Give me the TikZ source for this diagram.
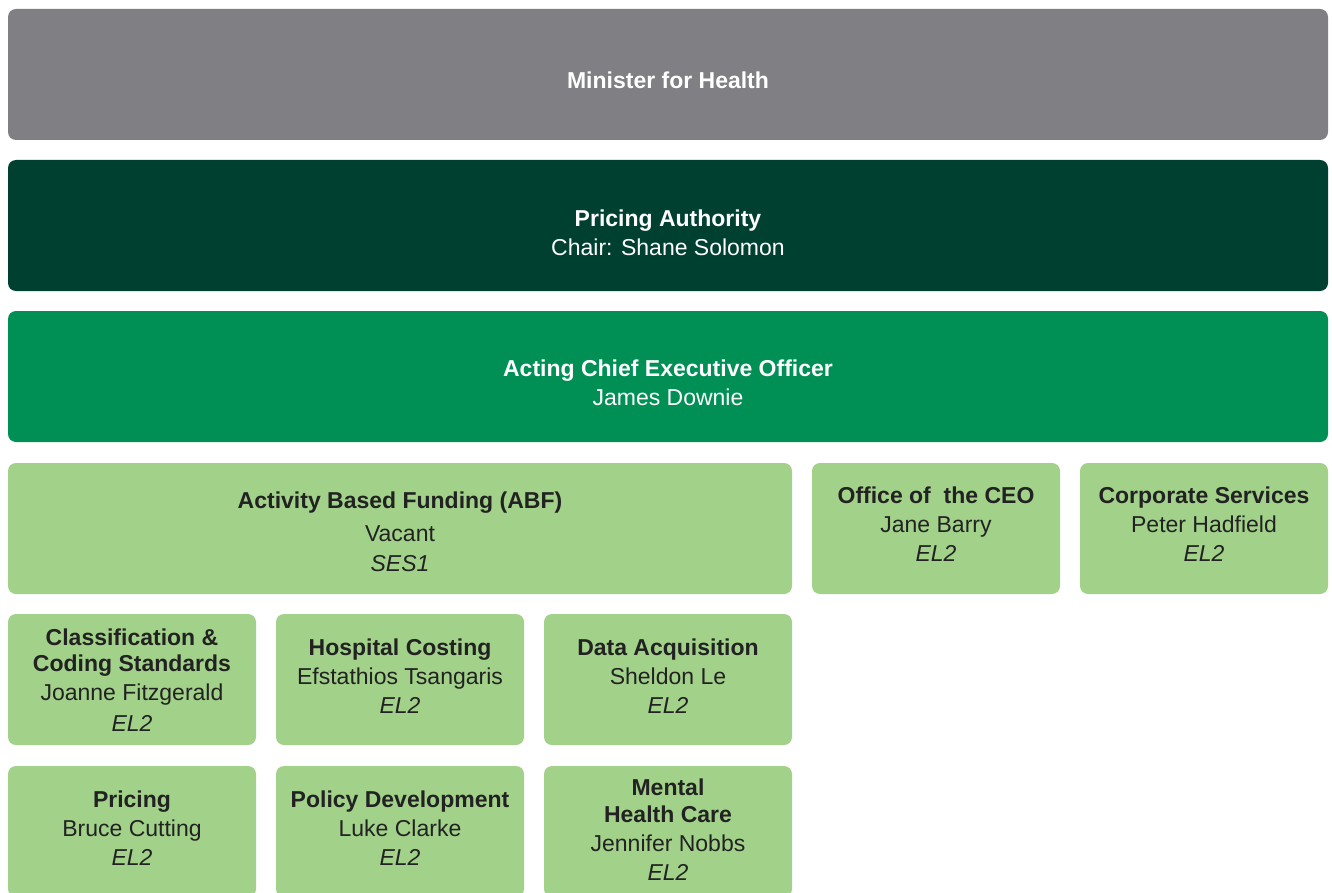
\documentclass[tikz,border=0pt]{standalone}
\usepackage{fontspec}
\setmainfont{Liberation Sans}
\usepackage{tikz}

\definecolor{ministergray}{HTML}{808084}
\definecolor{darkgreen}{HTML}{004030}
\definecolor{midgreen}{HTML}{009055}
\definecolor{lightgreen}{HTML}{A2D18A}
\definecolor{inkgray}{HTML}{222222}

\tikzset{
  unit/.style={rounded corners=8pt, minimum height=131pt, inner sep=0pt},
  topunit/.style={unit, fill=#1, minimum width=1320pt},
  branch/.style={unit, fill=lightgreen, minimum width=#1},
  branch/.default=248pt,
  unittext/.style={inner sep=0pt, align=center, text=#1,
    font=\fontsize{23}{29}\selectfont},
  unittext/.default=inkgray
}

\begin{document}
\begin{tikzpicture}[x=1pt,y=-1pt]
    \clip (0,0) rectangle (1332,893);
    \fill[white] (0,0) rectangle (1332,893);

    % top of the chart
    \node[topunit=ministergray] (minister) at (668,74.5) {};
    \node[topunit=darkgreen] (authority) at (668,225.5) {};
    \node[topunit=midgreen] (ceo) at (668,376.5) {};

    \node[unittext=white] (ministerT) at ([yshift=-5.5pt]minister.center) {\textbf{Minister for Health}};
    \node[unittext=white] (authorityT) at ([yshift=-7pt]authority.center) {\textbf{Pricing Authority}\\Chair: Shane Solomon};
    \node[unittext=white] (ceoT) at ([yshift=-6pt]ceo.center) {\textbf{Acting Chief Executive Officer}\\James Downie};

    % branches under the CEO
    \node[branch=784pt] (abf) at (400,528.5) {};
    \node[branch] (office) at (936,528.5) {};
    \node[branch] (corporate) at (1204,528.5) {};

    \node[unittext] (abfT) at ([yshift=-3pt]abf.center) {\textbf{Activity Based Funding (ABF)}\\[4pt]Vacant\\[1pt]\textit{SES1}};
    \node[unittext] (officeT) at ([yshift=4.5pt]office.center) {\textbf{Office of\ \ the CEO}\\Jane Barry\\\textit{EL2}};
    \node[unittext] (corporateT) at ([yshift=4.5pt]corporate.center) {\textbf{Corporate Services}\\Peter Hadfield\\\textit{EL2}};

    % sections of ABF
    \node[branch] (coding) at (132,679.5) {};
    \node[branch] (costing) at (400,679.5) {};
    \node[branch] (data) at (668,679.5) {};
    \node[branch] (pricing) at (132,831.5) {};
    \node[branch] (policy) at (400,831.5) {};
    \node[branch] (mental) at (668,831.5) {};

    \node[unittext] (codingT) at ([yshift=-0.5pt]coding.center) {\textbf{Classification \&}\\[-3pt]\textbf{Coding Standards}\\Joanne Fitzgerald\\[2pt]\textit{EL2}};
    \node[unittext] (costingT) at ([yshift=3.5pt]costing.center) {\textbf{Hospital Costing}\\Efstathios Tsangaris\\\textit{EL2}};
    \node[unittext] (dataT) at ([yshift=3.5pt]data.center) {\textbf{Data Acquisition}\\Sheldon Le\\\textit{EL2}};
    \node[unittext] (pricingT) at ([yshift=3.5pt]pricing.center) {\textbf{Pricing}\\Bruce Cutting\\\textit{EL2}};
    \node[unittext] (policyT) at ([yshift=3.5pt]policy.center) {\textbf{Policy Development}\\Luke Clarke\\\textit{EL2}};
    \node[unittext] (mentalT) at ([yshift=1.5pt]mental.center) {\textbf{Mental}\\[-2pt]\textbf{Health Care}\\Jennifer Nobbs\\\textit{EL2}};
\end{tikzpicture}
\end{document}
